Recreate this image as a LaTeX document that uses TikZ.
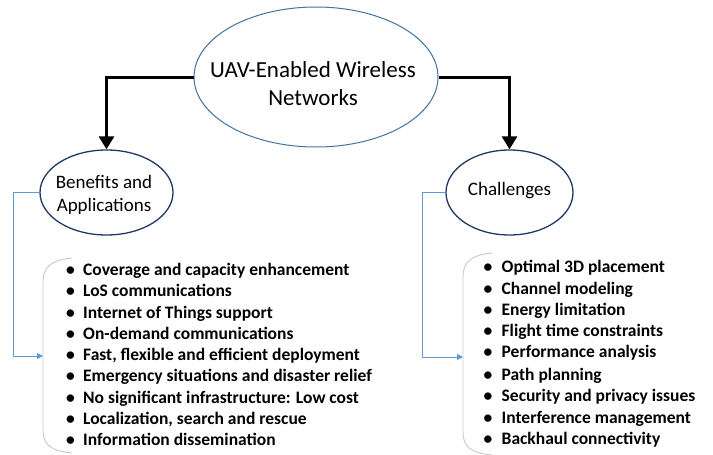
\documentclass[tikz,border=0pt]{standalone}
\usepackage{fontspec}
\setmainfont{Carlito}
\usetikzlibrary{shapes.geometric,arrows.meta}
\definecolor{ellmain}{HTML}{41719C}
\definecolor{ellsub}{HTML}{203864}
\definecolor{linkblue}{HTML}{5B9BD5}
\definecolor{bracegray}{HTML}{C8C8C8}
\tikzset{
  mainell/.style={ellipse, draw=ellmain, line width=1pt, minimum width=244pt, minimum height=140pt, inner sep=0pt},
  subell/.style={ellipse, draw=ellsub, line width=1.3pt, minimum height=85pt, inner sep=0pt},
  maintxt/.style={font=\fontsize{23}{28}\selectfont, anchor=base, inner sep=0pt},
  subtxt/.style={font=\fontsize{19}{23}\selectfont, anchor=base, inner sep=0pt},
  bigarrow/.style={line width=3pt, -{Triangle[width=15pt,length=13pt]}},
  bluelink/.style={draw=linkblue, line width=0.9pt, -{Triangle[width=6pt,length=6pt]}},
  bracket/.style={draw=bracegray, line width=0.9pt},
  itemtxt/.style={font=\fontsize{17.5}{21}\selectfont\bfseries, anchor=base west, inner sep=0pt},
}
\begin{document}
\begin{tikzpicture}[x=1pt,y=-1pt]
\useasboundingbox (0,0) rectangle (713,455);
% ellipses
\node[mainell] (uav) at (316,77) {};
\node[maintxt] (uavt1) at (313,77.5) {UAV-Enabled Wireless};
\node[maintxt] (uavt2) at (313,105.5) {Networks};
\node[subell, minimum width=133pt] (ben) at (106.5,192.5) {};
\node[subtxt] (bent1) at (104,188) {Benefits and};
\node[subtxt] (bent2) at (104,211) {Applications};
\node[subell, minimum width=127pt] (chal) at (509.5,192.5) {};
\node[subtxt] (chalt) at (509.5,195) {Challenges};
% black arrows
\draw[bigarrow] (uav.west) -| (ben.north);
\draw[bigarrow] (uav.east) -| (chal.north);
% brackets
\coordinate (lbr) at (43,356);
\draw[bracket] (72,258) .. controls (50,260) and (43,268) .. (43,282) -- (43,430) .. controls (43,444) and (50,451) .. (72,453);
\coordinate (rbr) at (463,357);
\draw[bracket] (492,253) .. controls (470,255) and (463,263) .. (463,277) -- (463,432) .. controls (463,446) and (470,453) .. (492,455);
% blue links
\draw[bluelink] (ben.west) -- (13,192.5) |- (lbr);
\draw[bluelink] (chal.west) -- (422,192.5) |- (rbr);
% left list
\foreach \t [count=\i] in {{Coverage and capacity enhancement},{LoS communications},{Internet of Things support},{On-demand communications},{Fast, flexible and efficient deployment},{Emergency situations and disaster relief},{No significant infrastructure: Low cost},{Localization, search and rescue},{Information dissemination}}
  \node[itemtxt] (l\i) at (66,{275.5+21.25*(\i-1)}) {\makebox[17pt][l]{•}\t};
% right list
\foreach \t/\y [count=\i] in {{Optimal 3D placement}/272.5,{Channel modeling}/294,{Energy limitation}/315,{Flight time constraints}/336,{Performance analysis}/357,{Path planning}/380,{Security and privacy issues}/401,{Interference management}/423,{Backhaul connectivity}/444}
  \node[itemtxt] (r\i) at (483.5,\y) {\makebox[18pt][l]{•}\t};
\end{tikzpicture}
\end{document}
